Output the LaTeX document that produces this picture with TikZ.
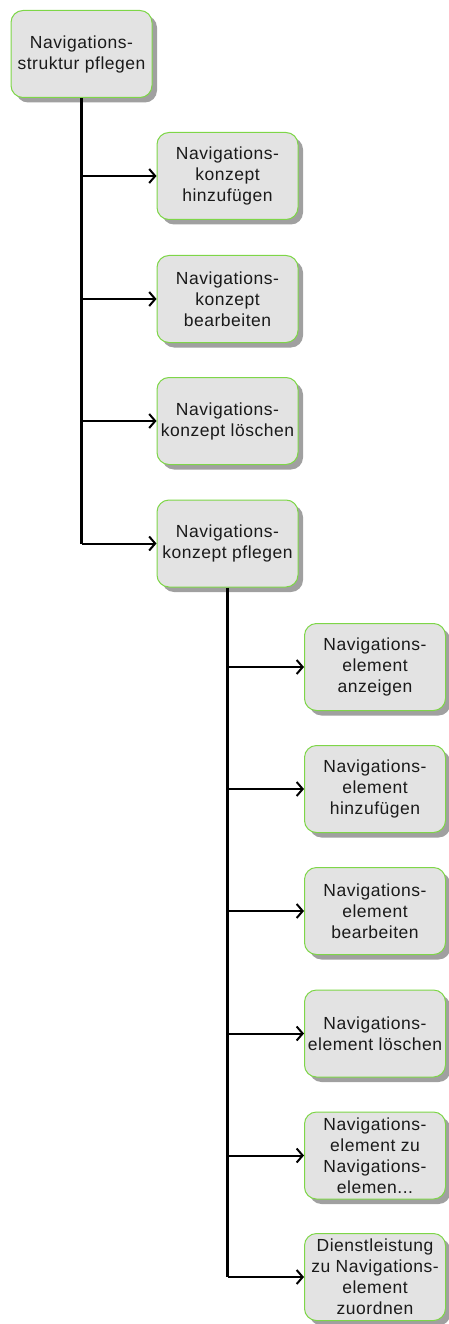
\documentclass[tikz,border=0pt]{standalone}
\usepackage{fontspec}
\setmainfont{Liberation Sans}[LetterSpace=3]
\usetikzlibrary{shadows,arrows.meta}
\definecolor{boxfill}{HTML}{E3E3E3}
\definecolor{boxedge}{HTML}{7ED648}
\definecolor{shade}{HTML}{A0A0A0}
\definecolor{txt}{HTML}{1A1A1A}
\tikzset{
  taskbox/.style={rectangle, rounded corners=12pt, draw=boxedge, line width=1pt,
    fill=boxfill, minimum width=141pt, minimum height=87pt, align=center,
    font=\fontsize{17.5}{21}\selectfont, text=txt, inner sep=1pt,
    drop shadow={shadow xshift=5pt, shadow yshift=-5pt, fill=shade, opacity=1}},
  trunk/.style={line width=2.6pt, black},
  branch/.style={line width=2pt, black, -{Straight Barb[length=6pt,width=14pt,line width=2pt]}}
}
\begin{document}
\begin{tikzpicture}[x=1pt,y=-1pt]
\useasboundingbox (0,0) rectangle (448,1324);
% top-level task
\node[taskbox] (root) at (81.5,54) {Navigations-\\struktur pflegen};
% first level
\node[taskbox] (a1) at (227.5,176) {Navigations-\\konzept\\hinzufügen};
\node[taskbox] (a2) at (227.5,299) {Navigations-\\konzept\\bearbeiten};
\node[taskbox] (a3) at (227.5,421) {Navigations-\\konzept löschen};
\node[taskbox] (a4) at (227.5,543.5) {Navigations-\\konzept pflegen};
% second level
\node[taskbox] (b1) at (375,667) {Navigations-\\element\\anzeigen};
\node[taskbox] (b2) at (375,789) {Navigations-\\element\\hinzufügen};
\node[taskbox] (b3) at (375,911) {Navigations-\\element\\bearbeiten};
\node[taskbox] (b4) at (375,1033.5) {Navigations-\\element löschen};
\node[taskbox] (b5) at (375,1155.5) {Navigations-\\element zu\\Navigations-\\elemen...};
\node[taskbox] (b6) at (375,1277) {Dienstleistung\\zu Navigations-\\element\\zuordnen};
% connectors
\draw[trunk] (root.south) -- (root.south |- a4.west);
\foreach \n in {a1,a2,a3,a4}
  \draw[branch] (root.south |- \n.west) -- (\n.west);
\draw[trunk] (a4.south) -- (a4.south |- b6.west);
\foreach \n in {b1,b2,b3,b4,b5,b6}
  \draw[branch] (a4.south |- \n.west) -- (\n.west);
\end{tikzpicture}
\end{document}
